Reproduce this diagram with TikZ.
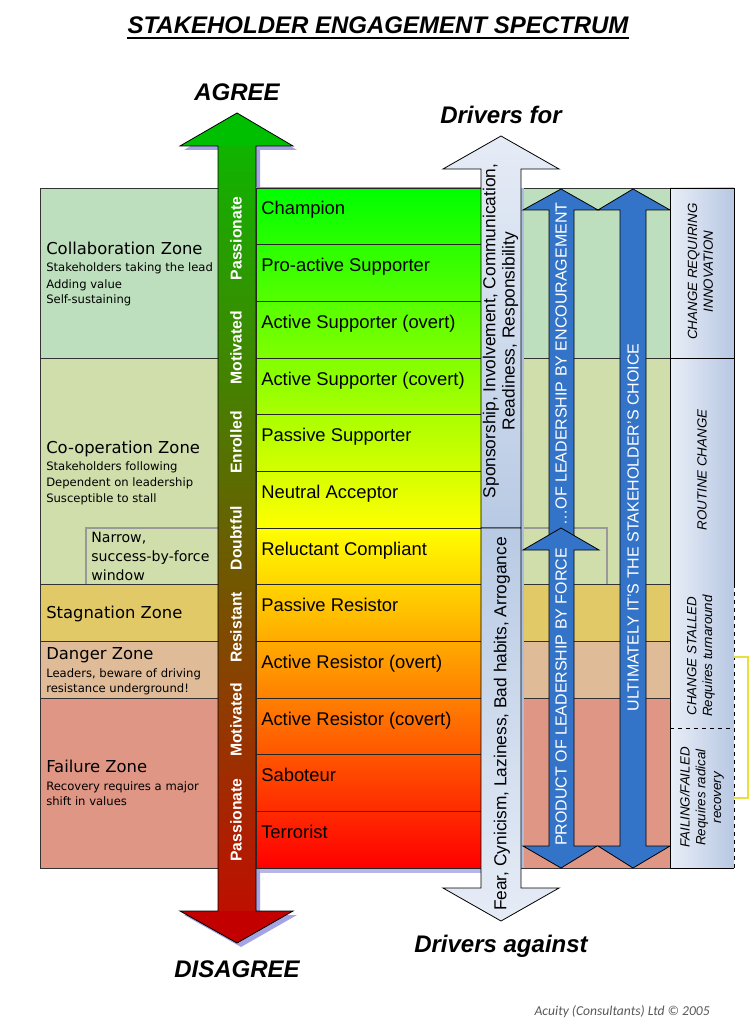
\documentclass[tikz,border=0pt]{standalone}
\usepackage{fontspec}
\setmainfont{Liberation Sans}
\newfontfamily\zonefont{DejaVu Sans}
\newfontfamily\copyfont{Carlito}
\usetikzlibrary{calc}
\definecolor{zcollab}{RGB}{189,223,189}
\definecolor{zcoop}{RGB}{208,222,172}
\definecolor{zstag}{RGB}{226,201,104}
\definecolor{zdanger}{RGB}{224,187,152}
\definecolor{zfail}{RGB}{224,150,133}
\definecolor{shadowc}{RGB}{164,164,228}
\definecolor{headgreen}{RGB}{0,190,0}
\definecolor{headred}{RGB}{195,0,0}
\definecolor{shafttop}{RGB}{15,180,0}
\definecolor{shaftbot}{RGB}{190,15,0}
\definecolor{drvlight}{RGB}{230,236,246}
\definecolor{drvdark}{RGB}{184,202,228}
\definecolor{drvshadow}{RGB}{170,190,225}
\definecolor{bluearrow}{RGB}{52,116,200}
\definecolor{colleft}{RGB}{233,238,247}
\definecolor{colright}{RGB}{183,200,227}
\definecolor{bracketc}{RGB}{232,224,64}
\definecolor{sp0}{RGB}{0,255,0}
\definecolor{sp1}{RGB}{42,255,0}
\definecolor{sp2}{RGB}{85,255,0}
\definecolor{sp3}{RGB}{128,255,0}
\definecolor{sp4}{RGB}{170,255,0}
\definecolor{sp5}{RGB}{212,255,0}
\definecolor{sp6}{RGB}{255,255,0}
\definecolor{sp7}{RGB}{255,212,0}
\definecolor{sp8}{RGB}{255,170,0}
\definecolor{sp9}{RGB}{255,128,0}
\definecolor{sp10}{RGB}{255,85,0}
\definecolor{sp11}{RGB}{255,42,0}
\definecolor{sp12}{RGB}{255,0,0}
\begin{document}
\begin{tikzpicture}[x=0.75pt,y=-0.75pt,
  zonebox/.style={draw=black!80, line width=0.6pt},
  zonename/.style={anchor=base west, inner sep=0, font=\zonefont\fontsize{12.3}{14}\selectfont},
  zonesub/.style={anchor=base west, inner sep=0, font=\zonefont\fontsize{8.7}{12}\selectfont},
  narrowtext/.style={anchor=base west, inner sep=0, font=\zonefont\fontsize{10.6}{14}\selectfont},
  splabel/.style={anchor=base west, inner sep=0, font=\fontsize{13.8}{16}\selectfont},
  vlab/.style={rotate=90, inner sep=0, text=white, font=\bfseries\fontsize{11.8}{14}\selectfont},
  drvtext/.style={rotate=90, inner sep=0, align=center, font=\fontsize{13}{14.5}\selectfont},
  bluetext/.style={rotate=90, inner sep=0, text=white, font=\fontsize{12}{14}\selectfont},
  coltext/.style={rotate=90, inner sep=0, align=center, font=\itshape\fontsize{10}{11.8}\selectfont},
  bigitalic/.style={inner sep=0, anchor=base, font=\bfseries\itshape\fontsize{18}{20}\selectfont},
  outline/.style={draw=black, line width=0.6pt}]

\fill[white] (0,0) rectangle (752,1030);
\useasboundingbox (0,0) rectangle (752,1030);

% zones
\fill[zcollab] (40,188) rectangle (670,358);
\fill[zcoop] (40,358) rectangle (670,584);
\fill[zstag] (40,584) rectangle (670,641);
\fill[zdanger] (40,641) rectangle (670,698);
\fill[zfail] (40,698) rectangle (670,868);
% narrow window
\draw[black!40, line width=0.8pt] (86,584) -- (86,528) -- (607,528) -- (607,584);
\draw[zonebox] (40,188) rectangle (670,358);
\draw[zonebox] (40,358) rectangle (670,584);
\draw[zonebox] (40,584) rectangle (670,641);
\draw[zonebox] (40,641) rectangle (670,698);
\draw[zonebox] (40,698) rectangle (670,868);

% shadows
\begin{scope}[shift={(4,4)}]
\fill[shadowc] (237,113) -- (293,146) -- (256,146) -- (256,911) -- (293,911) -- (237,943) -- (180,911) -- (218,911) -- (218,146) -- (180,146) -- cycle;
\end{scope}
\fill[shadowc!80] (260,192) rectangle (485,873);

% agree / disagree arrow
\shade[top color=shafttop, bottom color=shaftbot] (218,146) rectangle (256,911);
\fill[headgreen] (180,146) -- (237,113) -- (293,146) -- cycle;
\fill[headred] (180,911) -- (237,943) -- (293,911) -- cycle;
\draw[outline] (237,113) -- (293,146) -- (256,146) -- (256,911) -- (293,911) -- (237,943) -- (180,911) -- (218,911) -- (218,146) -- (180,146) -- cycle;

% spectrum rows
\foreach \lab [count=\i from 0] in {Champion, Pro-active Supporter, Active Supporter (overt), Active Supporter (covert), Passive Supporter, Neutral Acceptor, Reluctant Compliant, Passive Resistor, Active Resistor (overt), Active Resistor (covert), Saboteur, Terrorist} {
  \pgfmathtruncatemacro\j{\i+1}
  \pgfmathsetmacro\ya{188+\i*680/12}
  \pgfmathsetmacro\yb{188+(\i+1)*680/12}
  \shadedraw[top color=sp\i, bottom color=sp\j, draw=black!85, line width=0.7pt] (256,\ya) rectangle (481,\yb);
  \node[splabel] (row\i) at (261,\ya+27) {\lab};
}

% drivers arrows
\fill[drvshadow] (521,188) rectangle (524,868);
\shadedraw[top color=drvlight, bottom color=drvdark, outline] (501,136) -- (559,169) -- (521,169) -- (521,528) -- (481,528) -- (481,169) -- (443,169) -- cycle;
\shadedraw[top color=drvdark, bottom color=drvlight, outline] (481,528) -- (521,528) -- (521,888) -- (559,888) -- (501,921) -- (443,888) -- (481,888) -- cycle;

% blue arrows
\filldraw[fill=bluearrow, outline] (561,189) -- (598,210) -- (574,210) -- (574,545) -- (549,545) -- (549,210) -- (523,210) -- cycle;
\filldraw[fill=bluearrow, outline] (561,528) -- (599,550) -- (574,550) -- (574,846) -- (597,846) -- (561,868) -- (523,846) -- (549,846) -- (549,550) -- (523,550) -- cycle;
\filldraw[fill=bluearrow, outline] (633,189) -- (670,210) -- (646,210) -- (646,846) -- (670,846) -- (633,868) -- (598,846) -- (620,846) -- (620,210) -- (598,210) -- cycle;

% right column
\shadedraw[left color=colleft, right color=colright, outline] (670,188) rectangle (734,358);
\shadedraw[left color=colleft, right color=colright, outline] (670,358) rectangle (734,584);
\shade[left color=colleft, right color=colright] (670,584) rectangle (734,868);
\draw[outline] (670,584) -- (670,868) -- (734,868);
\draw[outline, dashed] (734,584) -- (734,868);
\draw[outline, dashed] (670,728) -- (734,728);
\draw[bracketc, line width=0.8pt] (734,657) -- (748,657) -- (748,798) -- (734,798);

% titles
\node[bigitalic] (title) at (378,34) {STAKEHOLDER ENGAGEMENT SPECTRUM};
\draw[line width=1.4pt] ($(title.base west)+(0,4)$) -- ($(title.base east)+(0,4)$);
\node[bigitalic] (agree) at (237,101) {AGREE};
\node[bigitalic] (disagree) at (237,977) {DISAGREE};
\node[bigitalic] (drvfor) at (501,124) {Drivers for};
\node[bigitalic] (drvagainst) at (501,952) {Drivers against};
\node[anchor=base east, inner sep=0, font=\copyfont\itshape\fontsize{10.2}{12}\selectfont, text=black!65] (copy) at (710,1015) {Acuity (Consultants) Ltd © 2005};

% zone texts
\node[zonename] (z1) at (46,255) {Collaboration Zone};
\node[zonesub] (z1a) at (46,272) {Stakeholders taking the lead};
\node[zonesub] (z1b) at (46,288) {Adding value};
\node[zonesub] (z1c) at (46,303) {Self-sustaining};
\node[zonename] (z2) at (46,453) {Co-operation Zone};
\node[zonesub] (z2a) at (46,470) {Stakeholders following};
\node[zonesub] (z2b) at (46,486) {Dependent on leadership};
\node[zonesub] (z2c) at (46,502) {Susceptible to stall};
\node[narrowtext] (n1) at (91,542) {Narrow,};
\node[narrowtext] (n2) at (91,561) {success-by-force};
\node[narrowtext] (n3) at (91,580) {window};
\node[zonename] (z3) at (46,618) {Stagnation Zone};
\node[zonename] (z4) at (46,659) {Danger Zone};
\node[zonesub] (z4a) at (46,677) {Leaders, beware of driving};
\node[zonesub] (z4b) at (46,692) {resistance underground!};
\node[zonename] (z5) at (46,772) {Failure Zone};
\node[zonesub] (z5a) at (46,790) {Recovery requires a major};
\node[zonesub] (z5b) at (46,805) {shift in values};

% arrow labels
\node[vlab] (v1) at (236,238.5) {Passionate};
\node[vlab] (v2) at (236,348) {Motivated};
\node[vlab] (v3) at (236,442.5) {Enrolled};
\node[vlab] (v4) at (236,538) {Doubtful};
\node[vlab] (v5) at (236,627.5) {Resistant};
\node[vlab] (v6) at (236,720) {Motivated};
\node[vlab] (v7) at (236,820) {Passionate};

\node[drvtext] (d1) at (500.5,331) {Sponsorship, Involvement, Communication,\\Readiness, Responsibility};
\node[drvtext] (d2) at (502,724) {Fear, Cynicism, Laziness, Bad habits, Arrogance};

\node[bluetext] (b1) at (561,364) {…OF LEADERSHIP BY ENCOURAGEMENT};
\node[bluetext] (b2) at (561,697) {PRODUCT OF LEADERSHIP BY FORCE};
\node[bluetext] (b3) at (633,527.5) {ULTIMATELY IT’S THE STAKEHOLDER’S CHOICE};

\node[coltext] (c1) at (700.5,271.5) {CHANGE REQUIRING\\INNOVATION};
\node[coltext] (c2) at (702,470) {ROUTINE CHANGE};
\node[coltext] (c3) at (701,656) {CHANGE STALLED\\Requires turnaround};
\node[coltext] (c4) at (702,797.5) {FAILING/FAILED\\Requires radical\\recovery};
\end{tikzpicture}
\end{document}
